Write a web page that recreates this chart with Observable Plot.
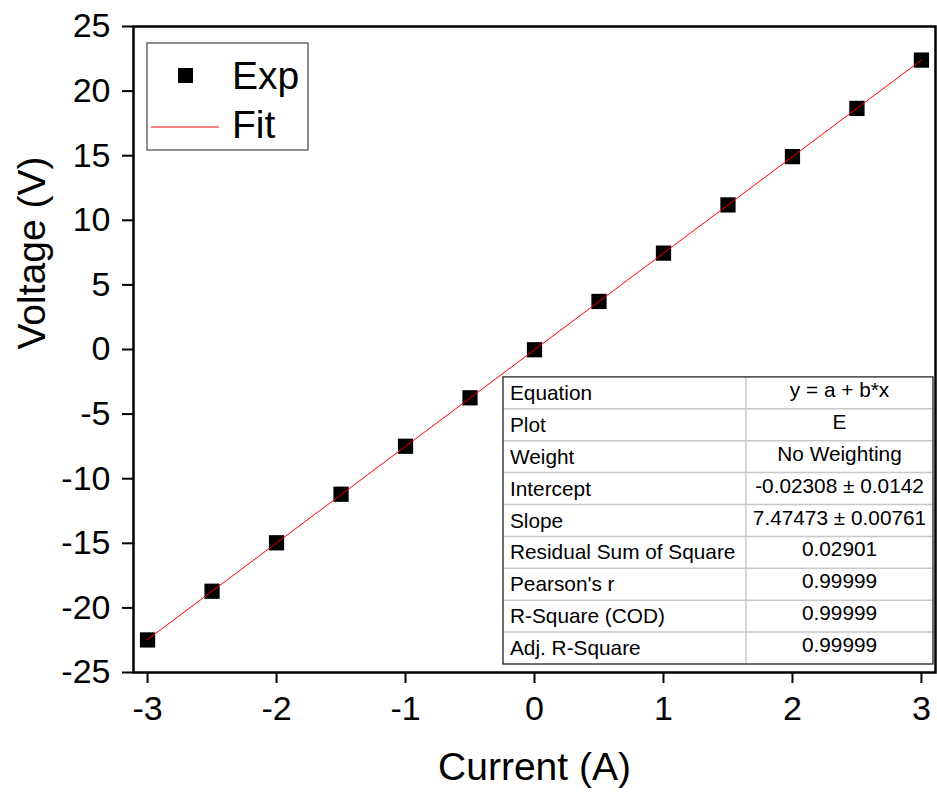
<!DOCTYPE html>
<html>
<head>
<meta charset="utf-8">
<script src="https://cdn.jsdelivr.net/npm/d3@7"></script>
<script src="https://cdn.jsdelivr.net/npm/@observablehq/plot@0.6"></script>
<style>
  html, body { margin: 0; padding: 0; background: #fff; }
  #chart svg { display: block; }
</style>
</head>
<body>
<div id="chart"></div>
<script>
// Measured current/voltage pairs
const current = [-3, -2.5, -2, -1.5, -1, -0.5, 0, 0.5, 1, 1.5, 2, 2.5, 3];
const voltage = [-22.48, -18.71, -14.96, -11.20, -7.49, -3.74, -0.02, 3.72, 7.46, 11.19, 14.93, 18.66, 22.40];

// Linear fit y = a + b*x (parameters as reported in the stats table)
const intercept = -0.02308;
const slope = 7.47473;
const fitRange = [-3, 3];

// Axis ticks
const xTicks = [-3, -2, -1, 0, 1, 2, 3];
const yTicks = [-25, -20, -15, -10, -5, 0, 5, 10, 15, 20, 25];

// Legend entries
const seriesNames = ["Exp", "Fit"];

// Fit statistics table
const statNames = ["Equation", "Plot", "Weight", "Intercept", "Slope",
  "Residual Sum of Square", "Pearson's r", "R-Square (COD)", "Adj. R-Square"];
const statValues = ["y = a + b*x", "E", "No Weighting", "-0.02308 \u00b1 0.0142",
  "7.47473 \u00b1 0.00761", "0.02901", "0.99999", "0.99999", "0.99999"];

const FONT = "'Liberation Sans', Arial, Helvetica, sans-serif";

const points = current.map((x, i) => ({x, y: voltage[i]}));
const fitLine = fitRange.map(x => ({x, y: intercept + slope * x}));

// Legend box in the upper-left corner of the frame
function legendMark(index, scales, values, dims) {
  const g = d3.create("svg:g").attr("font-family", FONT).attr("text-anchor", "start");
  const x0 = dims.marginLeft + 14, y0 = dims.marginTop + 17;
  g.append("rect").attr("x", x0).attr("y", y0).attr("width", 161).attr("height", 107)
    .attr("fill", "white").attr("stroke", "#444").attr("stroke-width", 1.2);
  g.append("rect").attr("x", x0 + 31).attr("y", y0 + 25).attr("width", 15).attr("height", 15)
    .attr("fill", "black");
  g.append("line").attr("x1", x0 + 4).attr("x2", x0 + 72).attr("y1", y0 + 84).attr("y2", y0 + 84)
    .attr("stroke", "red").attr("stroke-width", 1);
  g.append("text").attr("x", x0 + 85).attr("y", y0 + 46).attr("font-size", 39)
    .attr("text-anchor", "start").text(seriesNames[0]);
  g.append("text").attr("x", x0 + 85).attr("y", y0 + 95).attr("font-size", 39)
    .attr("text-anchor", "start").text(seriesNames[1]);
  return g.node();
}

// Fit statistics table in the lower-right corner of the frame
function statsMark(index, scales, values, dims) {
  const g = d3.create("svg:g").attr("font-family", FONT).attr("font-size", 20.8);
  const right = dims.width - dims.marginRight - 2;
  const bottom = dims.height - dims.marginBottom - 8;
  const w = 430, rowH = 31.9, h = rowH * statNames.length, col1 = 243;
  const left = right - w, top = bottom - h;
  g.append("rect").attr("x", left).attr("y", top).attr("width", w).attr("height", h)
    .attr("fill", "white");
  statNames.forEach((name, i) => {
    const ry = top + i * rowH;
    if (i > 0) g.append("line").attr("x1", left).attr("x2", right).attr("y1", ry).attr("y2", ry)
      .attr("stroke", "#c8c8c8").attr("stroke-width", 1.5);
    g.append("text").attr("x", left + 7).attr("y", ry + 23)
      .attr("text-anchor", "start").text(name);
    g.append("text").attr("x", left + col1 + (w - col1) / 2).attr("y", ry + 20)
      .attr("text-anchor", "middle").text(statValues[i]);
  });
  g.append("line").attr("x1", left + col1).attr("x2", left + col1).attr("y1", top).attr("y2", bottom)
    .attr("stroke", "#c8c8c8").attr("stroke-width", 1.5);
  g.append("rect").attr("x", left).attr("y", top).attr("width", w).attr("height", h)
    .attr("fill", "none").attr("stroke", "#222").attr("stroke-width", 1.3);
  return g.node();
}

const chart = Plot.plot({
  width: 937,
  height: 792,
  marginLeft: 133,
  marginRight: 2,
  marginTop: 26,
  marginBottom: 120,
  style: {fontFamily: FONT, background: "white", color: "black", overflow: "visible"},
  x: {domain: [-3.109, 3.109]},
  y: {domain: [-25, 25]},
  marks: [
    Plot.axisX({ticks: xTicks, tickSize: 11, tickPadding: 12, fontSize: 34, strokeWidth: 2,
      tickFormat: d => String(d), label: null}),
    Plot.axisY({ticks: yTicks, tickSize: 11, tickPadding: 12, fontSize: 34, strokeWidth: 2,
      tickFormat: d => String(d), label: null}),
    Plot.dot(points, {x: "x", y: "y", symbol: "square", r: 8.6, fill: "black", stroke: "none"}),
    Plot.line(fitLine, {x: "x", y: "y", stroke: "red", strokeWidth: 1}),
    Plot.frame({stroke: "black", strokeWidth: 2.5}),
    Plot.text(["Current (A)"], {frameAnchor: "bottom", dy: 107, fontSize: 39, fill: "black"}),
    Plot.text(["Voltage (V)"], {frameAnchor: "left", dx: -101, rotate: -90, fontSize: 39, fill: "black"}),
    legendMark,
    statsMark
  ]
});

document.getElementById("chart").append(chart);
</script>
</body>
</html>
